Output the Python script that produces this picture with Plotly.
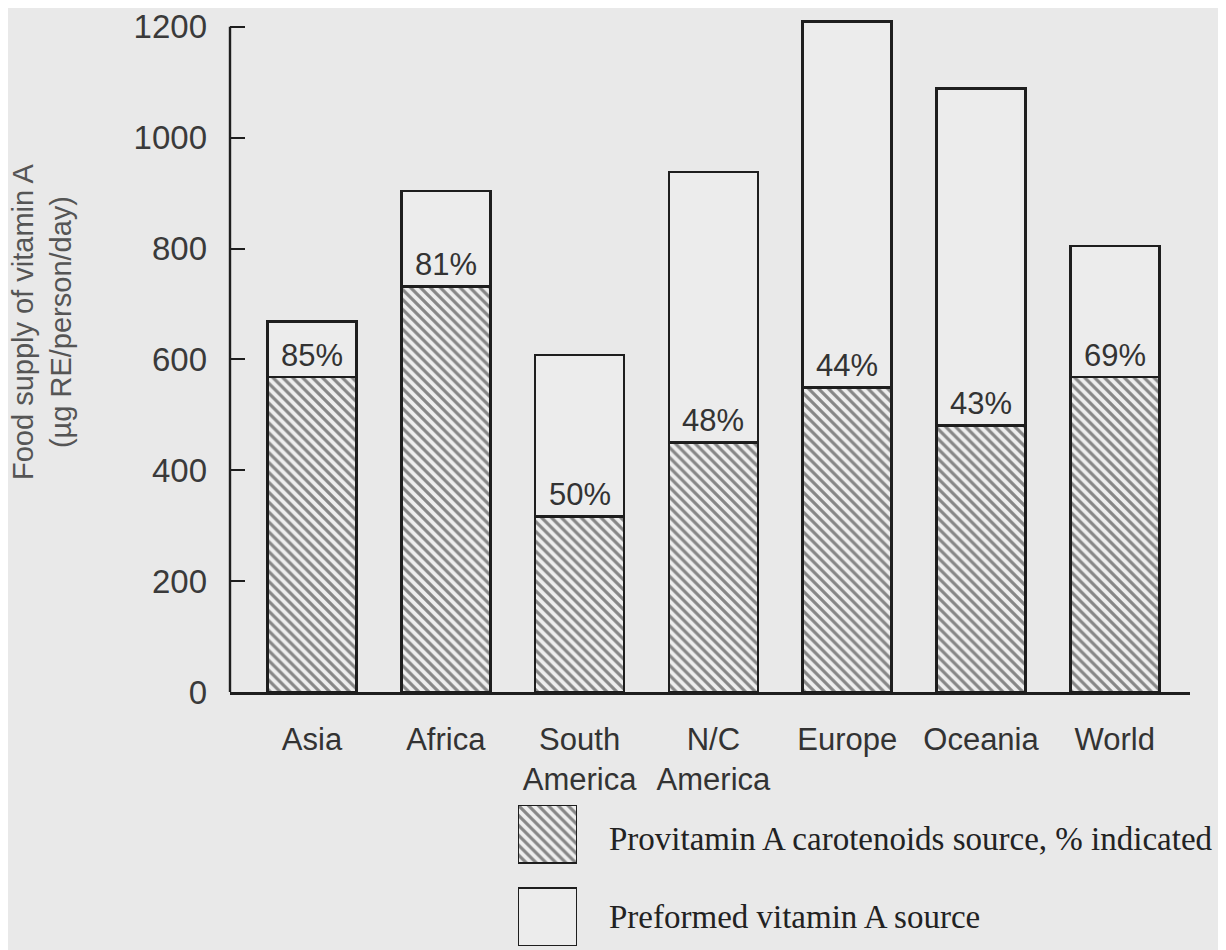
import plotly.graph_objects as go

categories = ["Asia", "Africa", "South<br>America", "N/C<br>America", "Europe", "Oceania", "World"]
provitamin = [568, 732, 317, 450, 549, 481, 568]
preformed = [100, 172, 291, 488, 661, 608, 237]
pct_labels = ["85%", "81%", "50%", "48%", "44%", "43%", "69%"]
y_ticks = [0, 200, 400, 600, 800, 1000, 1200]

OFF = 8  # page body margin in the browser
W, H = 1226 - OFF, 950 - OFF
ML, MR, MT, MB = 230 - OFF, 36, 0, 0
plot_w = W - ML - MR
paper_h = H - MT - MB
axis_y_px = 692  # screen row of value 0

BG = "#e9e9e9"
INK = "#1e1e1e"
xs = list(range(len(categories)))

hatch = dict(shape="\\", size=7, solidity=0.45, fgcolor="#1e1e1e", bgcolor="#eeeeee")

fig = go.Figure()
fig.add_trace(go.Bar(
    x=xs, y=provitamin, width=0.665, name="Provitamin A carotenoids source, % indicated",
    marker=dict(color=BG, line=dict(color=INK, width=2.5), pattern=hatch),
    showlegend=False, hoverinfo="skip"))
fig.add_trace(go.Bar(
    x=xs, y=preformed, width=0.665, name="Preformed vitamin A source",
    marker=dict(color="#ececec", line=dict(color=INK, width=2.5)),
    showlegend=False, hoverinfo="skip"))

# legend swatches (auxiliary axes)
fig.add_trace(go.Bar(x=[0], y=[58], base=[83], width=1, xaxis="x2", yaxis="y2",
    marker=dict(color=BG, line=dict(color=INK, width=2.2), pattern=hatch),
    showlegend=False, hoverinfo="skip"))
fig.add_trace(go.Bar(x=[0], y=[58], base=[0], width=1, xaxis="x2", yaxis="y2",
    marker=dict(color="#ececec", line=dict(color=INK, width=2.2)),
    showlegend=False, hoverinfo="skip"))

def py(px):
    return (H - MB - (px - OFF)) / paper_h

def pxx(px):
    return (px - OFF - ML) / plot_w

annotations = []
for i, (v, t) in enumerate(zip(provitamin, pct_labels)):
    annotations.append(dict(x=i, y=v, xref="x", yref="y", text=t, showarrow=False,
                            yanchor="middle", yshift=22,
                            font=dict(family="Liberation Sans, Arial", size=31, color="#333333")))

annotations.append(dict(x=pxx(42), y=py(322), xref="paper", yref="paper",
                        text="Food supply of vitamin A<br>(µg RE/person/day)",
                        textangle=-90, showarrow=False, xanchor="center", yanchor="middle",
                        font=dict(family="Liberation Sans, Arial", size=29, color="#555555")))
annotations.append(dict(x=pxx(607), y=py(839), xref="paper", yref="paper",
                        text="Provitamin A carotenoids source, % indicated", showarrow=False,
                        xanchor="left", yanchor="middle",
                        font=dict(family="Liberation Serif, Times New Roman", size=33, color="#222222")))
annotations.append(dict(x=pxx(607), y=py(917), xref="paper", yref="paper",
                        text="Preformed vitamin A source", showarrow=False,
                        xanchor="left", yanchor="middle",
                        font=dict(family="Liberation Serif, Times New Roman", size=33, color="#222222")))

fig.update_layout(
    width=W, height=H, barmode="stack",
    margin=dict(l=ML, r=MR, t=MT, b=MB, autoexpand=False),
    paper_bgcolor=BG, plot_bgcolor=BG,
    annotations=annotations,
    shapes=[dict(type="line", xref="paper", yref="y", x0=0, x1=0, y0=0, y1=1200,
                 line=dict(color=INK, width=2.4))],
    xaxis=dict(range=[-0.613, 6.562], tickvals=xs, ticktext=categories,
               showline=True, linecolor=INK, linewidth=2.5, ticks="", showgrid=False,
               zeroline=False, automargin=False, ticklabelstandoff=18,
               tickfont=dict(family="Liberation Sans, Arial", size=31, color="#333333")),
    yaxis=dict(range=[0, 1234], domain=[py(axis_y_px), 1], tickvals=y_ticks,
               ticks="inside", ticklen=15, tickwidth=2.2, tickcolor=INK,
               showline=False, showgrid=False, zeroline=False, automargin=False,
               ticklabelstandoff=22,
               tickfont=dict(family="Liberation Sans, Arial", size=33, color="#3a3a3a")),
    xaxis2=dict(domain=[pxx(518), pxx(577)], range=[-0.5, 0.5], visible=False, anchor="y2"),
    yaxis2=dict(domain=[py(946), py(805)], range=[0, 141], visible=False, anchor="x2"),
)

fig.write_html("out.html")
